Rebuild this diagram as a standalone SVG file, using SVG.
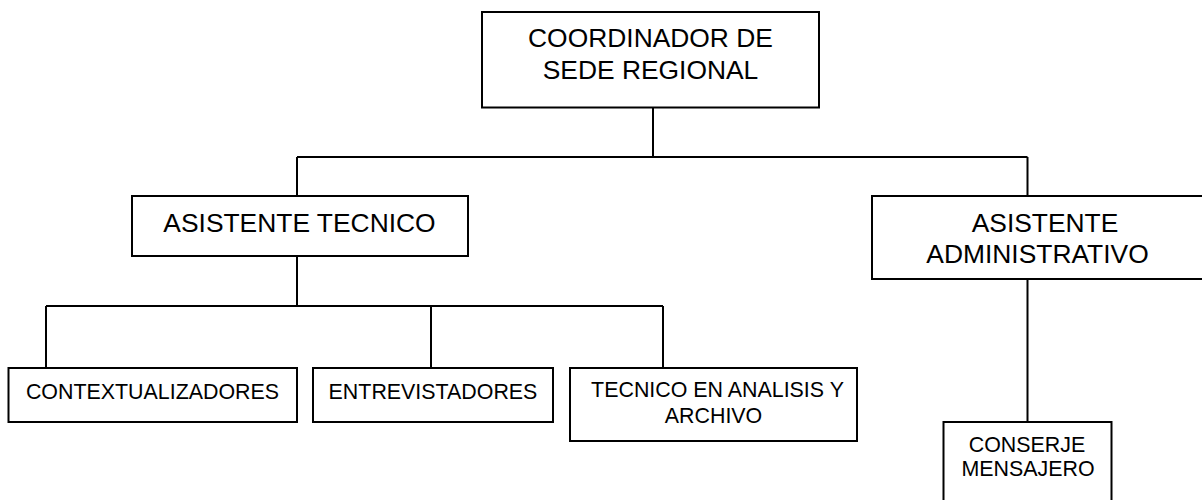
<svg xmlns="http://www.w3.org/2000/svg" width="1202" height="500" viewBox="0 0 1202 500">
<style>
.box{fill:#fff;stroke:#000;stroke-width:2}
.ln{fill:none;stroke:#000;stroke-width:2}
.big{font-family:"Liberation Sans",Arial,sans-serif;font-size:26.4px;fill:#000;text-anchor:middle}
.sm{font-family:"Liberation Sans",Arial,sans-serif;font-size:21.4px;fill:#000;text-anchor:middle}
</style>
<rect width="1202" height="500" fill="#fff"/>
<g id="connectors">
<path class="ln" d="M653,108 V157 M297,157 H1027.5 M297,157 V196 M1027.5,157 V196"/>
<path class="ln" d="M297,256 V306 M46,306 H663 M46,306 V368 M431,306 V368 M663,306 V368"/>
<path class="ln" d="M1027.5,279 V422"/>
</g>
<g id="coordinador">
<rect class="box" x="482" y="12" width="337" height="95.5"/>
<text class="big" x="650.5" y="46.5">COORDINADOR DE</text>
<text class="big" x="650.5" y="78.5">SEDE REGIONAL</text>
</g>
<g id="asistente-tecnico">
<rect class="box" x="132" y="196" width="336" height="60"/>
<text class="big" x="299.5" y="231.7">ASISTENTE TECNICO</text>
</g>
<g id="asistente-administrativo">
<rect class="box" x="872" y="196" width="340" height="83"/>
<text class="big" x="1045" y="231.7">ASISTENTE</text>
<text class="big" x="1037.5" y="263.3">ADMINISTRATIVO</text>
</g>
<g id="contextualizadores">
<rect class="box" x="8.5" y="368" width="288.5" height="54"/>
<text class="sm" x="152.5" y="399">CONTEXTUALIZADORES</text>
</g>
<g id="entrevistadores">
<rect class="box" x="313" y="368" width="240" height="54"/>
<text class="sm" x="433" y="399">ENTREVISTADORES</text>
</g>
<g id="tecnico-analisis">
<rect class="box" x="570" y="368" width="287" height="73"/>
<text class="sm" x="717.5" y="397">TECNICO EN ANALISIS Y</text>
<text class="sm" x="713.5" y="422.5">ARCHIVO</text>
</g>
<g id="conserje">
<rect class="box" x="943.5" y="422" width="168" height="90"/>
<text class="sm" x="1027" y="452.3">CONSERJE</text>
<text class="sm" x="1028" y="476">MENSAJERO</text>
</g>
</svg>
